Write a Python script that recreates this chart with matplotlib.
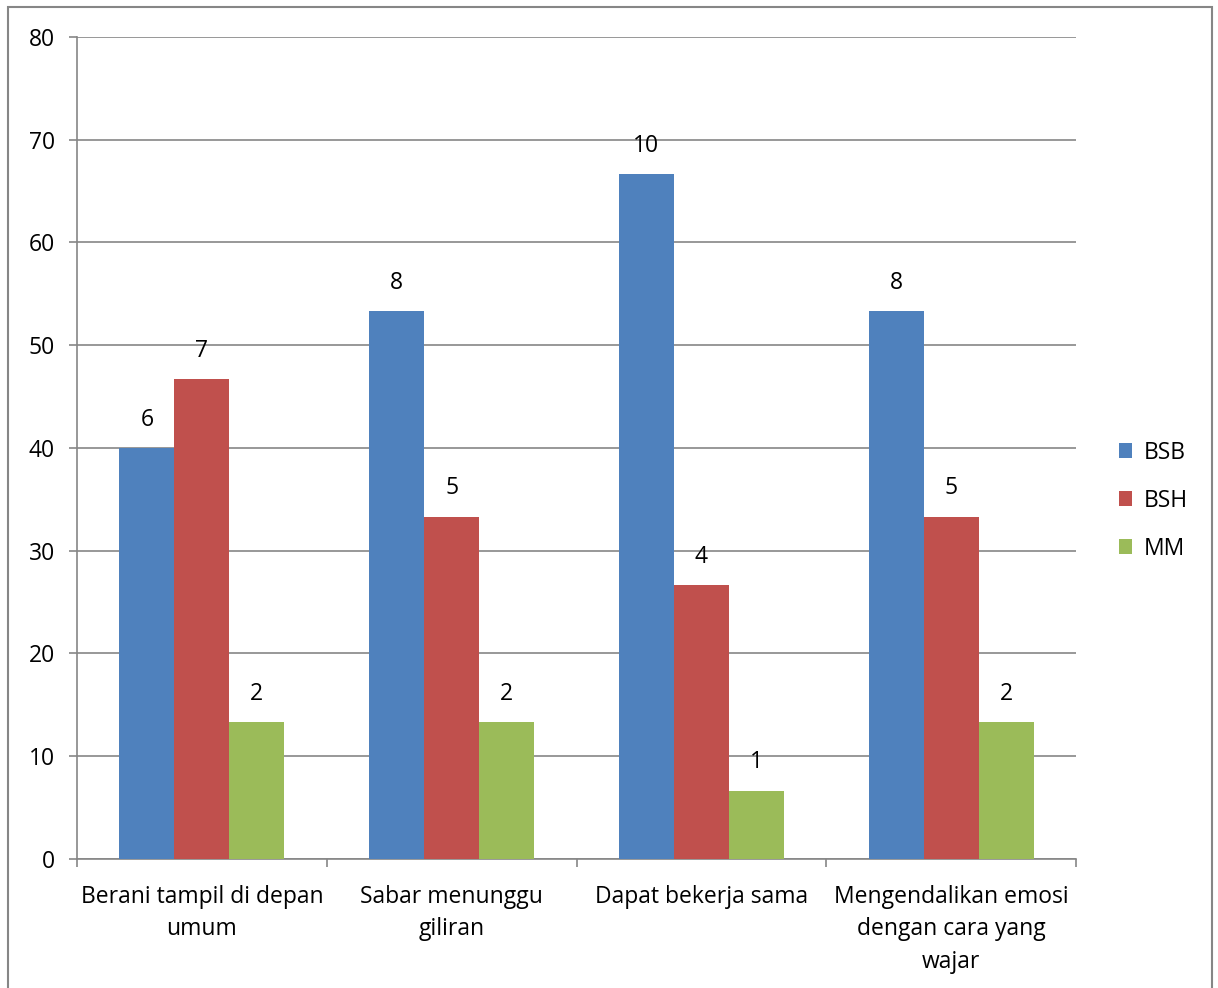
import matplotlib.pyplot as plt
from matplotlib.patches import Rectangle
import numpy as np

# aspects observed and number of children per rating (out of 15)
aspects = ['Berani tampil di depan\numum', 'Sabar menunggu\ngiliran',
           'Dapat bekerja sama', 'Mengendalikan emosi\ndengan cara yang\nwajar']
series = ['BSB', 'BSH', 'MM']
bsb = [6, 8, 10, 8]
bsh = [7, 5, 4, 5]
mm = [2, 2, 1, 2]
total_children = 15

colors = ['#4F81BD', '#C0504D', '#9BBB59']
grey = '#868686'

plt.rcParams['font.family'] = ['Open Sans', 'DejaVu Sans']


def plot_chart():
    fig = plt.figure(figsize=(12.18, 9.88), dpi=100)
    ax = fig.add_axes([77 / 1218, 1 - 859 / 988, 999 / 1218, 822 / 988])

    fs = 16.5
    width = 0.22
    x = np.arange(len(aspects)) + 0.5
    for k, (name, counts) in enumerate(zip(series, [bsb, bsh, mm])):
        pct = [c / total_children * 100 for c in counts]
        pos = x + (k - 1) * width
        ax.bar(pos, pct, width, color=colors[k], label=name, zorder=3)
        for p, v, c in zip(pos, pct, counts):
            ax.text(p, v + 1.6, str(c), ha='center', va='bottom', fontsize=fs)

    ax.set_xlim(0, len(aspects))
    ax.set_ylim(0, 80)
    ax.set_yticks(range(0, 81, 10))
    ax.yaxis.grid(True, color=grey, linewidth=1.2, zorder=0)
    ax.tick_params(axis='y', length=6, width=1.2, color=grey, labelsize=fs, pad=10)

    ax.set_xticks(range(len(aspects) + 1))
    ax.set_xticklabels([])
    ax.set_xticks(x, minor=True)
    ax.set_xticklabels(aspects, minor=True, fontsize=fs, linespacing=1.45)
    ax.tick_params(axis='x', which='major', length=6, width=1.2, color=grey)
    ax.tick_params(axis='x', which='minor', length=0, pad=19)

    for s in ['top', 'right']:
        ax.spines[s].set_visible(False)
    for s in ['left', 'bottom']:
        ax.spines[s].set_color(grey)
        ax.spines[s].set_linewidth(1.2)

    ax.legend(loc='center left', bbox_to_anchor=(1.022, 0.436), frameon=False,
              fontsize=fs, handlelength=0.6, handleheight=0.6,
              labelspacing=1.05, handletextpad=0.5)

    # chart frame
    fig.patches.append(Rectangle((8 / 1218, -0.02), 1204 / 1218, 1.02 - 7 / 988,
                                 transform=fig.transFigure, fill=False,
                                 edgecolor=grey, linewidth=1.5))

    fig.savefig('out.png', dpi=100)


if __name__ == '__main__':
    plot_chart()
